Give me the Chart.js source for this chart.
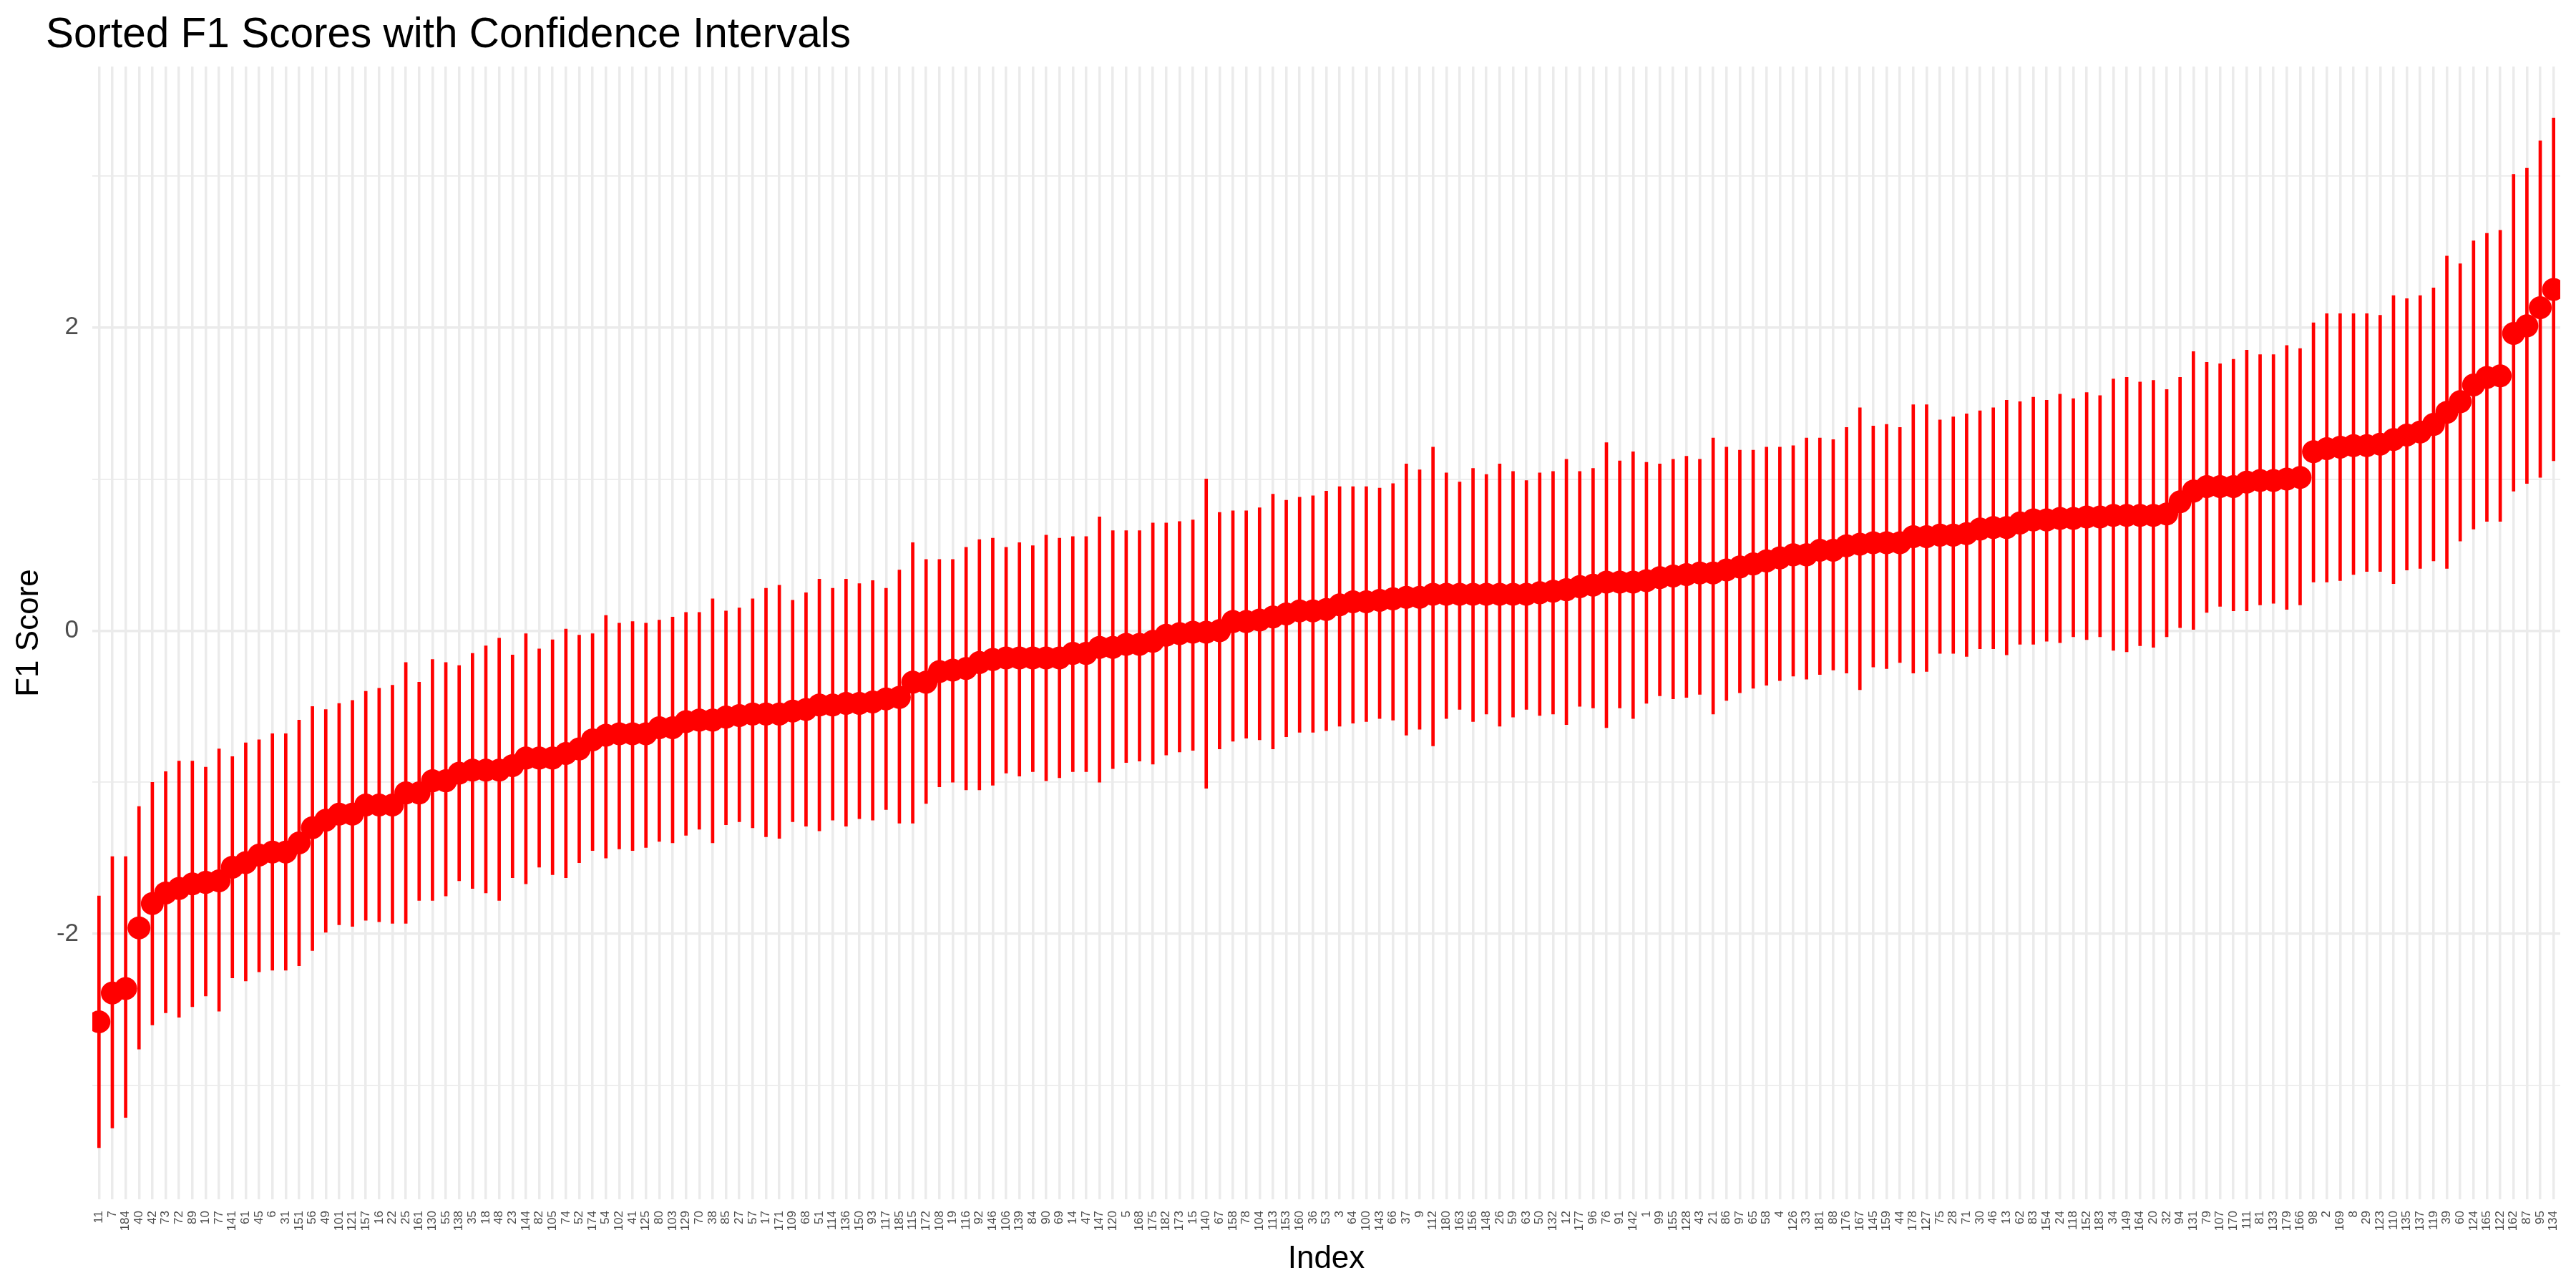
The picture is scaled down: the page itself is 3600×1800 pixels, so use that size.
<!DOCTYPE html>
<html>
<head>
<meta charset="utf-8">
<script src="https://cdn.jsdelivr.net/npm/chart.js@4.4.1/dist/chart.umd.min.js"></script>
<style>
html, body { margin: 0; padding: 0; background: #ffffff; }
canvas { display: block; }
</style>
</head>
<body>
<canvas id="chart" width="3600" height="1800" style="width:3600px;height:1800px"></canvas>
<script>
// ---- data ----
const indexLabels = [
  "11","7","184","40","42","73","72","89","10","77",
  "141","61","45","6","31","151","56","49","101","121",
  "157","16","22","25","161","130","55","138","35","18",
  "48","23","144","82","105","74","52","174","54","102",
  "41","125","80","103","129","70","38","85","27","57",
  "17","171","109","68","51","114","136","150","93","117",
  "185","115","172","108","19","116","92","146","106","139",
  "84","90","69","14","47","147","120","5","168","175",
  "182","173","15","140","67","158","78","104","113","153",
  "160","36","53","3","64","100","143","66","37","9",
  "112","180","163","156","148","26","59","63","50","132",
  "12","177","96","76","91","142","1","99","155","128",
  "43","21","86","97","65","58","4","126","33","181",
  "88","176","167","145","159","44","178","127","75","28",
  "71","30","46","13","62","83","154","24","118","152",
  "183","34","149","164","20","32","94","131","79","107",
  "170","111","81","133","179","166","98","2","169","8",
  "29","123","110","135","137","119","39","60","124","165",
  "122","162","87","95","134"
];

const f1Scores = [
  -2.58,-2.39,-2.36,-1.96,-1.80,-1.73,-1.70,-1.67,-1.66,-1.65,
  -1.56,-1.53,-1.48,-1.46,-1.46,-1.40,-1.30,-1.25,-1.21,-1.21,
  -1.15,-1.15,-1.15,-1.07,-1.07,-0.99,-0.99,-0.94,-0.92,-0.92,
  -0.92,-0.89,-0.84,-0.84,-0.84,-0.81,-0.78,-0.72,-0.69,-0.68,
  -0.68,-0.68,-0.64,-0.64,-0.60,-0.59,-0.59,-0.57,-0.56,-0.55,
  -0.55,-0.55,-0.53,-0.52,-0.49,-0.49,-0.48,-0.48,-0.47,-0.45,
  -0.44,-0.34,-0.34,-0.27,-0.26,-0.25,-0.21,-0.19,-0.18,-0.18,
  -0.18,-0.18,-0.18,-0.15,-0.15,-0.11,-0.11,-0.09,-0.09,-0.07,
  -0.03,-0.02,-0.01,-0.01,0.00,0.06,0.06,0.07,0.09,0.11,
  0.13,0.13,0.14,0.17,0.19,0.19,0.20,0.21,0.22,0.22,
  0.24,0.24,0.24,0.24,0.24,0.24,0.24,0.24,0.25,0.26,
  0.27,0.29,0.30,0.32,0.32,0.32,0.33,0.35,0.36,0.37,
  0.38,0.38,0.40,0.42,0.44,0.46,0.48,0.50,0.50,0.53,
  0.53,0.56,0.57,0.58,0.58,0.58,0.62,0.62,0.63,0.63,
  0.64,0.67,0.68,0.68,0.71,0.73,0.73,0.74,0.74,0.75,
  0.75,0.76,0.76,0.76,0.76,0.77,0.85,0.92,0.95,0.95,
  0.95,0.98,0.99,0.99,1.00,1.01,1.18,1.20,1.21,1.22,
  1.22,1.23,1.26,1.29,1.31,1.36,1.44,1.51,1.62,1.67,
  1.68,1.96,2.01,2.13,2.25
];

const ciLower = [
  -3.41,-3.28,-3.21,-2.76,-2.60,-2.52,-2.55,-2.48,-2.41,-2.51,
  -2.29,-2.31,-2.25,-2.24,-2.24,-2.21,-2.11,-1.99,-1.94,-1.95,
  -1.91,-1.92,-1.93,-1.93,-1.78,-1.78,-1.75,-1.65,-1.70,-1.73,
  -1.78,-1.63,-1.67,-1.56,-1.61,-1.63,-1.53,-1.45,-1.50,-1.44,
  -1.45,-1.43,-1.39,-1.40,-1.35,-1.31,-1.40,-1.28,-1.26,-1.30,
  -1.36,-1.37,-1.26,-1.29,-1.32,-1.25,-1.29,-1.24,-1.25,-1.18,
  -1.27,-1.27,-1.14,-1.03,-1.00,-1.05,-1.05,-1.02,-0.94,-0.96,
  -0.93,-0.99,-0.97,-0.93,-0.93,-1.00,-0.91,-0.87,-0.86,-0.88,
  -0.82,-0.80,-0.79,-1.04,-0.78,-0.73,-0.71,-0.72,-0.78,-0.70,
  -0.67,-0.67,-0.66,-0.63,-0.61,-0.60,-0.58,-0.59,-0.69,-0.65,
  -0.76,-0.58,-0.52,-0.60,-0.55,-0.63,-0.57,-0.52,-0.56,-0.55,
  -0.62,-0.50,-0.51,-0.64,-0.51,-0.58,-0.48,-0.43,-0.45,-0.44,
  -0.42,-0.55,-0.46,-0.41,-0.38,-0.36,-0.33,-0.30,-0.32,-0.29,
  -0.26,-0.28,-0.39,-0.24,-0.25,-0.21,-0.28,-0.27,-0.15,-0.15,
  -0.17,-0.12,-0.12,-0.16,-0.09,-0.09,-0.07,-0.08,-0.04,-0.06,
  -0.04,-0.13,-0.14,-0.10,-0.11,-0.04,0.02,0.00,0.12,0.16,
  0.13,0.13,0.17,0.18,0.14,0.17,0.32,0.32,0.33,0.37,
  0.39,0.39,0.31,0.40,0.41,0.46,0.41,0.59,0.67,0.72,
  0.72,0.92,0.97,1.01,1.12
];

const ciUpper = [
  -1.75,-1.49,-1.49,-1.16,-1.00,-0.93,-0.86,-0.86,-0.90,-0.78,
  -0.83,-0.74,-0.72,-0.68,-0.68,-0.59,-0.50,-0.52,-0.48,-0.46,
  -0.40,-0.38,-0.36,-0.21,-0.34,-0.19,-0.21,-0.23,-0.15,-0.10,
  -0.05,-0.16,-0.02,-0.12,-0.06,0.01,-0.03,-0.02,0.10,0.05,
  0.06,0.05,0.07,0.09,0.12,0.12,0.21,0.13,0.15,0.21,
  0.28,0.30,0.20,0.25,0.34,0.28,0.34,0.31,0.33,0.28,
  0.40,0.58,0.47,0.47,0.47,0.55,0.60,0.61,0.55,0.58,
  0.56,0.63,0.61,0.62,0.62,0.75,0.66,0.66,0.66,0.71,
  0.71,0.72,0.73,1.00,0.78,0.79,0.79,0.81,0.90,0.86,
  0.88,0.89,0.92,0.95,0.95,0.95,0.94,0.97,1.10,1.06,
  1.21,1.04,0.98,1.07,1.03,1.10,1.05,0.99,1.04,1.05,
  1.13,1.05,1.07,1.24,1.12,1.18,1.11,1.10,1.13,1.15,
  1.13,1.27,1.21,1.19,1.19,1.21,1.21,1.22,1.27,1.27,
  1.26,1.34,1.47,1.35,1.36,1.34,1.49,1.49,1.39,1.41,
  1.43,1.45,1.47,1.52,1.51,1.54,1.52,1.56,1.53,1.57,
  1.55,1.66,1.67,1.64,1.65,1.59,1.67,1.84,1.77,1.76,
  1.79,1.85,1.82,1.82,1.88,1.86,2.03,2.09,2.09,2.09,
  2.09,2.08,2.21,2.19,2.21,2.26,2.47,2.42,2.57,2.62,
  2.64,3.01,3.05,3.23,3.38
];

const yMajorTicks = [-2, 0, 2];
const yMinorTicks = [-3, -1, 1, 3];
const yRange = [-3.75, 3.72];

// ---- chart ----
const FONT = "'Liberation Sans', Arial, Helvetica, sans-serif";
const GRID = '#EBEBEB';

const titleLeftPlugin = {
  id: 'titleLeft',
  afterLayout(chart) {
    if (chart.titleBlock) { chart.titleBlock.left = 64; }
  }
};

new Chart(document.getElementById('chart'), {
  type: 'bar',
  data: {
    labels: indexLabels,
    datasets: [
      {
        type: 'line',
        label: 'F1 Score',
        data: f1Scores,
        showLine: false,
        pointRadius: 16,
        pointHoverRadius: 16,
        pointBackgroundColor: '#FF0000',
        pointBorderWidth: 0,
        borderWidth: 0,
        borderColor: '#FF0000',
        order: 1,
        clip: 0
      },
      {
        type: 'bar',
        label: 'CI',
        data: ciLower.map((lo, i) => [lo, ciUpper[i]]),
        backgroundColor: '#FF0000',
        borderWidth: 0,
        barThickness: 4,
        grouped: false,
        order: 2
      }
    ]
  },
  options: {
    responsive: false,
    animation: false,
    devicePixelRatio: 1,
    events: [],
    layout: { padding: { top: 0, left: 0, right: 22, bottom: 0 } },
    plugins: {
      legend: { display: false },
      tooltip: { enabled: false },
      title: {
        display: true,
        text: 'Sorted F1 Scores with Confidence Intervals',
        align: 'start',
        color: '#000000',
        font: { family: FONT, size: 58.5, weight: 'normal', lineHeight: 1 },
        padding: { top: 21, bottom: 13.5 }
      }
    },
    scales: {
      x: {
        type: 'category',
        offset: true,
        grid: { offset: false, color: GRID, lineWidth: 3.5, drawTicks: false },
        border: { display: false },
        ticks: {
          autoSkip: false,
          minRotation: 90,
          maxRotation: 90,
          color: '#4D4D4D',
          font: { family: FONT, size: 17 },
          padding: 16
        },
        title: {
          display: true,
          text: 'Index',
          color: '#000000',
          font: { family: FONT, size: 44, lineHeight: 1 },
          padding: { top: 0, bottom: 18 }
        },
        afterFit(s) { s.height = 124; s.paddingLeft = 0; s.paddingRight = 0; }
      },
      y: {
        type: 'linear',
        min: yRange[0],
        max: yRange[1],
        afterBuildTicks(s) {
          s.ticks = yMinorTicks.concat(yMajorTicks).sort((a, b) => a - b).map(v => ({ value: v }));
        },
        grid: {
          color: GRID,
          drawTicks: false,
          lineWidth: (ctx) => (ctx.tick && yMajorTicks.includes(ctx.tick.value)) ? 3.5 : 1.8
        },
        border: { display: false },
        ticks: {
          color: '#4D4D4D',
          font: { family: FONT, size: 35 },
          padding: 19,
          callback: (v) => yMajorTicks.includes(v) ? String(v) : ''
        },
        title: {
          display: true,
          text: 'F1 Score',
          color: '#000000',
          font: { family: FONT, size: 44, lineHeight: 1 },
          padding: { top: 19, bottom: 0 }
        },
        afterFit(s) { s.width = 129; s.paddingTop = 0; s.paddingBottom = 0; }
      }
    }
  },
  plugins: [titleLeftPlugin]
});
</script>
</body>
</html>
